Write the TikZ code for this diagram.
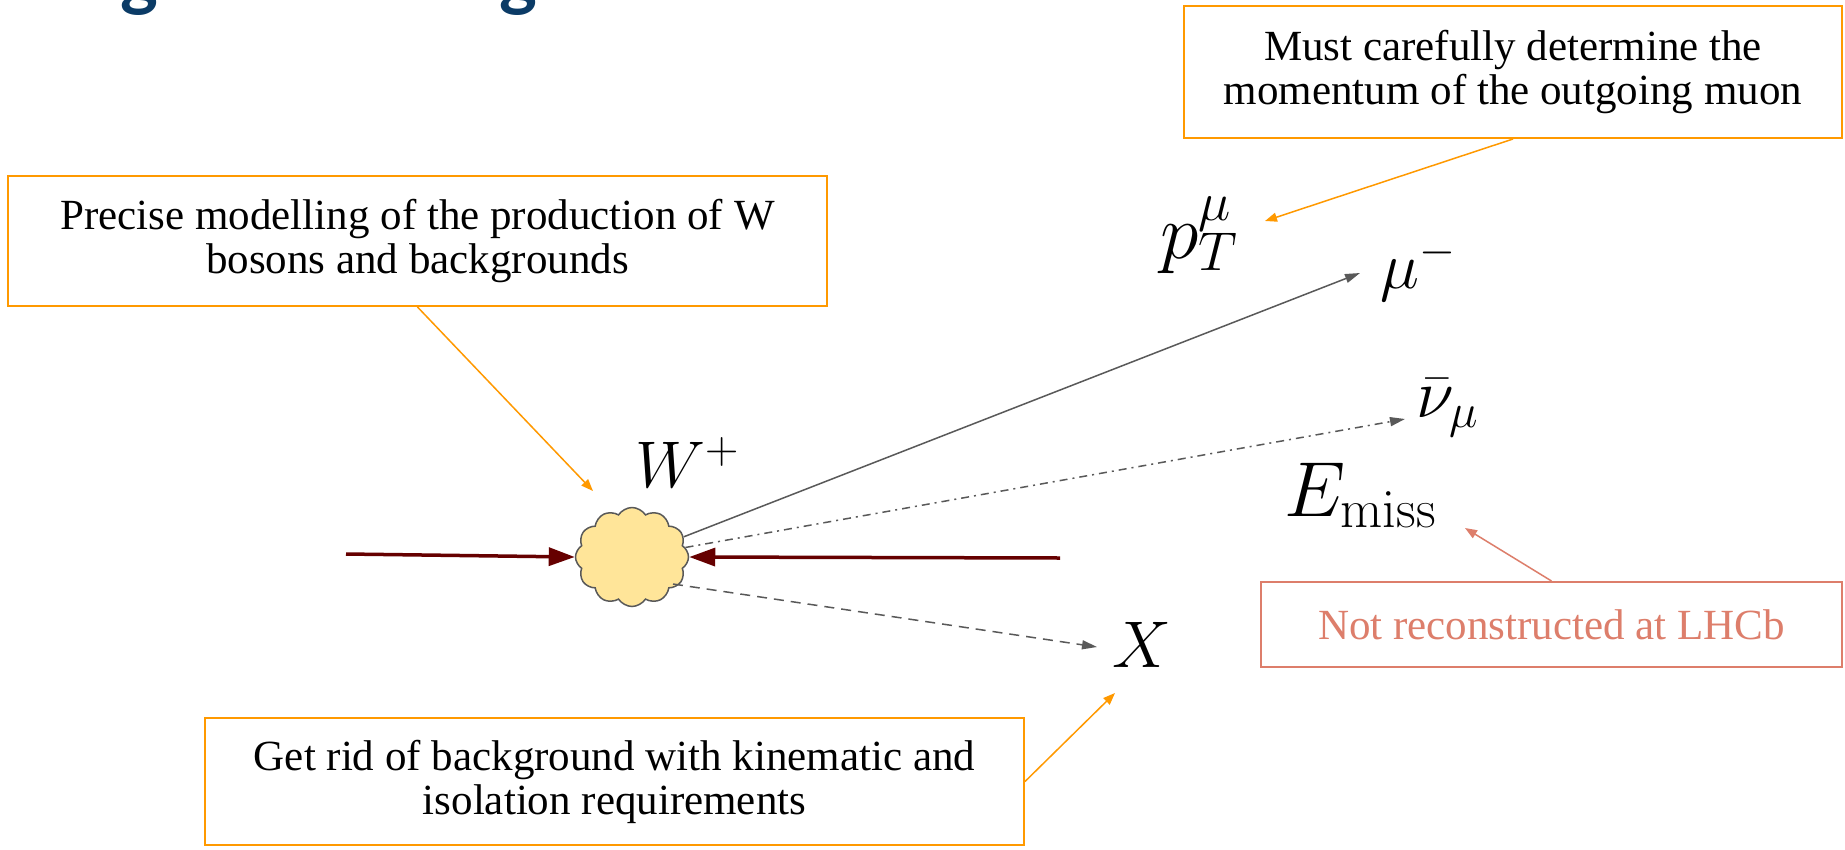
\RequirePackage{fix-cm}
\documentclass[tikz,border=0pt]{standalone}
\usepackage[no-math]{fontspec}
\setmainfont{Liberation Serif}
\newfontfamily\titlefont{Lato}
\usetikzlibrary{shapes.symbols,arrows.meta}
\definecolor{gor}{HTML}{FF9900}
\definecolor{gred}{HTML}{DD7E6B}
\definecolor{dred}{HTML}{660000}
\definecolor{gline}{HTML}{595959}
\definecolor{cloudfill}{HTML}{FFE599}
\definecolor{titleblue}{HTML}{0B3B66}
\tikzset{
  callout/.style={draw=gor, line width=2pt, align=center, inner sep=0pt,
    font=\fontsize{43}{44}\selectfont},
  redcallout/.style={callout, draw=gred, text=gred},
  notearrow/.style={draw=gor, line width=1.5pt, -{Triangle[length=12pt,width=9pt]}},
  rednotearrow/.style={notearrow, draw=gred},
  inarrow/.style={draw=dred, line width=3.5pt, -{Triangle[length=26pt,width=18pt]}},
  outarrow/.style={draw=gline, line width=1.5pt, -{Triangle[length=15pt,width=9pt]}},
  mathlabel/.style={anchor=base west, inner sep=0pt, font=\fontsize{66}{70}\selectfont},
  bigmath/.style={mathlabel, font=\fontsize{78}{84}\selectfont},
  titleglyph/.style={anchor=base, inner sep=0pt, text=titleblue,
    font=\titlefont\bfseries\fontsize{72}{72}\selectfont}
}
\begin{document}
\begin{tikzpicture}[x=1pt,y=-1pt]
\useasboundingbox[fill=white] (0,0) rectangle (1845,849);

% cut-off title glyphs
\node[titleglyph] (g1) at (140,2) {g};
\node[titleglyph] (g2) at (519,2) {g};

% boxes
\node[callout, minimum width=658pt, minimum height=132pt] (tbox) at (1513,72)
  {Must carefully determine the\\momentum of the outgoing muon};
\node[callout, minimum width=819pt, minimum height=130pt] (lbox) at (417.5,241)
  {Precise modelling of the production of W\\bosons and backgrounds};
\node[callout, minimum width=819pt, minimum height=127pt] (bbox) at (614.5,781.5)
  {Get rid of background with kinematic and\\isolation requirements};
\node[redcallout, minimum width=581pt, minimum height=85pt] (rbox) at (1551.5,624.5)
  {Not reconstructed at LHCb};

% cloud
\node[cloud, cloud puffs=12, cloud puff arc=115, aspect=1.15, draw=gline, fill=cloudfill,
  line width=1.5pt, minimum width=113pt, minimum height=99pt, inner sep=0pt] (cloud) at (632,557) {};

% labels
\node[mathlabel] (W) at (635,487) {$W^{+}$};
\node[bigmath] (pT) at (1160,258) {$p_T^{\mu}$};
\node[mathlabel] (mu) at (1380,288) {$\mu^{-}$};
\node[mathlabel, font=\fontsize{69}{74}\selectfont] (nu) at (1416,417) {$\bar{\nu}_{\mu}$};
\node[bigmath] (E) at (1284,516) {$E_{\mathrm{miss}}$};
\node[mathlabel] (X) at (1112,667) {$X$};

% coordinates
\coordinate (inL) at (346,554);
\coordinate (inR) at (1060,558);
\coordinate (muT) at (1360,273);
\coordinate (nuT) at (1405,419);
\coordinate (xS) at (673,584);
\coordinate (xT) at (1097,647);
\coordinate (lT) at (593,491);
\coordinate (tT) at (1265,221);
\coordinate (bT) at (1115,693);
\coordinate (rT) at (1465,528);

% particle lines
\draw[outarrow] (cloud) -- (muT);
\draw[outarrow, dash pattern=on 8pt off 5pt on 2pt off 5pt] (cloud) -- (nuT);
\draw[outarrow, dash pattern=on 10pt off 7pt] (xS) -- (xT);
\draw[inarrow] (inL) -- (cloud.west);
\draw[inarrow] (inR) -- (cloud.east);

% callout arrows
\draw[notearrow] (lbox.south) -- (lT);
\draw[notearrow] (tbox.south) -- (tT);
\draw[notearrow] (bbox.east) -- (bT);
\draw[rednotearrow] (rbox.north) -- (rT);
\end{tikzpicture}
\end{document}
